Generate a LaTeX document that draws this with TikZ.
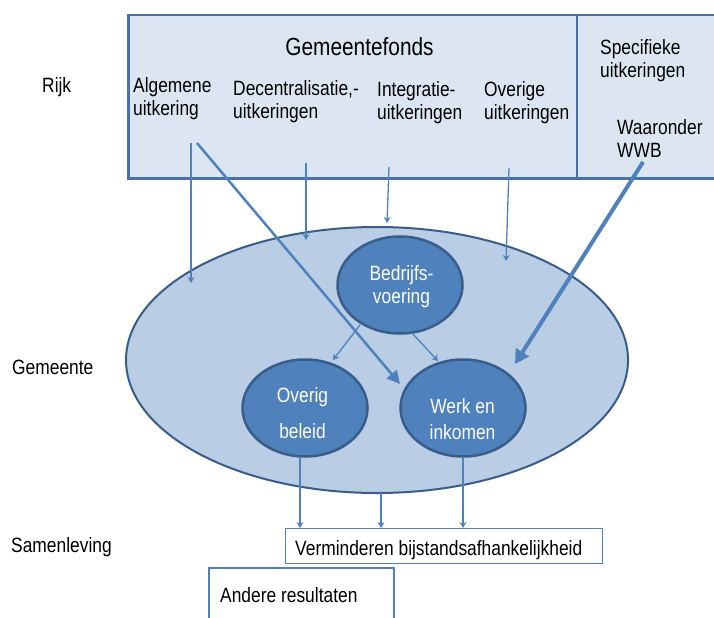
\documentclass[tikz,border=0pt]{standalone}
\usepackage{fontspec}
\setmainfont{Liberation Sans}[FakeStretch=0.84]
\usetikzlibrary{arrows.meta,shapes.geometric}
\definecolor{boxfill}{HTML}{DCE6F2}
\definecolor{boxline}{HTML}{4A70A8}
\definecolor{ellfill}{HTML}{B9CDE5}
\definecolor{ellline}{HTML}{385D8A}
\definecolor{accent}{HTML}{4F81BD}
\begin{document}
\begin{tikzpicture}[x=1bp,y=-1bp,
  txt/.style={inner sep=0pt, font=\fontsize{20.7bp}{23bp}\selectfont, align=left, anchor=north west},
  wtxt/.style={inner sep=0pt, font=\fontsize{20.7bp}{23bp}\selectfont, align=center, anchor=north, text=white},
  bigell/.style={ellipse, draw=ellline, line width=2bp, fill=ellfill, inner sep=0pt, minimum width=502bp, minimum height=266bp},
  smell/.style={ellipse, draw=ellline, line width=2.5bp, fill=accent, inner sep=0pt, minimum width=125bp, minimum height=97bp},
  thinarrow/.style={draw=accent, line width=1.3bp, -{Stealth[length=6bp,width=7bp]}},
  plainbox/.style={draw=accent, fill=white, anchor=north west, inner sep=0pt}
]
\useasboundingbox (0,0) rectangle (714,618);
\clip (0,0) rectangle (714,618);

% Rijk box
\node[draw=boxline, line width=2.5bp, fill=boxfill, anchor=north west,
      minimum width=640bp, minimum height=163bp, inner sep=0pt] (rijkbox) at (127,14) {};
\coordinate (dtop) at (577,14);
\coordinate (dbot) at (577,177);
\draw[boxline, line width=1.5bp] (dtop) -- (dbot);

% labels left
\node[txt] (rijk) at (42,77) {Rijk};
\node[txt] (gemeente) at (12,360) {Gemeente};
\node[txt] (samenleving) at (11,537) {Samenleving};

% texts in top box
\node[inner sep=0pt, font=\fontsize{24.8bp}{28bp}\selectfont, anchor=north] (gfonds) at (359.5,37) {Gemeentefonds};
\node[txt] (alg) at (133,77) {Algemene\\uitkering};
\node[txt] (dec) at (233,80.5) {Decentralisatie,-\\uitkeringen};
\node[txt] (intg) at (377,81) {Integratie-\\uitkeringen};
\node[txt] (ovr) at (484,81) {Overige\\uitkeringen};
\node[txt] (spec) at (600,39.5) {Specifieke\\uitkeringen};
\node[txt] (wwb) at (617,119) {Waaronder\\WWB};

% Gemeente ellipses
\node[bigell] (gem) at (377,360) {};
\node[smell] (bed) at (400,285) {};
\node[smell] (ovb) at (305,408) {};
\node[smell] (wei) at (463,408) {};
\node[wtxt] (bedt) at (401.5,265.5) {Bedrijfs-\\voering};
\node[wtxt] (ovbt) at (302.5,387.5) {Overig\\[13bp]beleid};
\node[wtxt] (weit) at (462.5,398.5) {Werk en\\[3bp]inkomen};

% result boxes
\node[plainbox, line width=1.3bp, minimum width=317bp, minimum height=35bp] (verm) at (285,528) {};
\node[txt] (vermt) at (295,540.5) {Verminderen bijstandsafhankelijkheid};
\node[plainbox, line width=2.2bp, minimum width=185bp, minimum height=80bp] (andere) at (208,567) {};
\node[txt] (anderet) at (220,587) {Andere resultaten};

% arrow coordinates
\coordinate (a1s) at (191,143); \coordinate (a1e) at (191,283);
\coordinate (a2s) at (306,163); \coordinate (a2e) at (306,240);
\coordinate (a3s) at (389,167); \coordinate (a3e) at (387,223);
\coordinate (a4s) at (509,168); \coordinate (a4e) at (506,261);
\coordinate (tks) at (197,143); \coordinate (tke) at (400,384);
\coordinate (wws) at (643,162); \coordinate (wwe) at (515,364);
\coordinate (bo1) at (360,325); \coordinate (bo2) at (333,360);
\coordinate (bw1) at (412,333); \coordinate (bw2) at (438,361);
\coordinate (r1s) at (300,457); \coordinate (r1e) at (300,528);
\coordinate (r2s) at (381,493); \coordinate (r2e) at (381,528);
\coordinate (r3s) at (463,457); \coordinate (r3e) at (463,528);

\draw[thinarrow] (a1s) -- (a1e);
\draw[thinarrow] (a2s) -- (a2e);
\draw[thinarrow] (a3s) -- (a3e);
\draw[thinarrow] (a4s) -- (a4e);
\draw[thinarrow] (bo1) -- (bo2);
\draw[thinarrow] (bw1) -- (bw2);
\draw[thinarrow] (r1s) -- (r1e);
\draw[thinarrow] (r2s) -- (r2e);
\draw[thinarrow] (r3s) -- (r3e);
\draw[draw=accent, line width=2.5bp, -{Triangle[length=13bp,width=13bp]}] (tks) -- (tke);
\draw[draw=accent, line width=4bp, -{Triangle[length=14bp,width=15bp]}] (wws) -- (wwe);
\end{tikzpicture}
\end{document}
